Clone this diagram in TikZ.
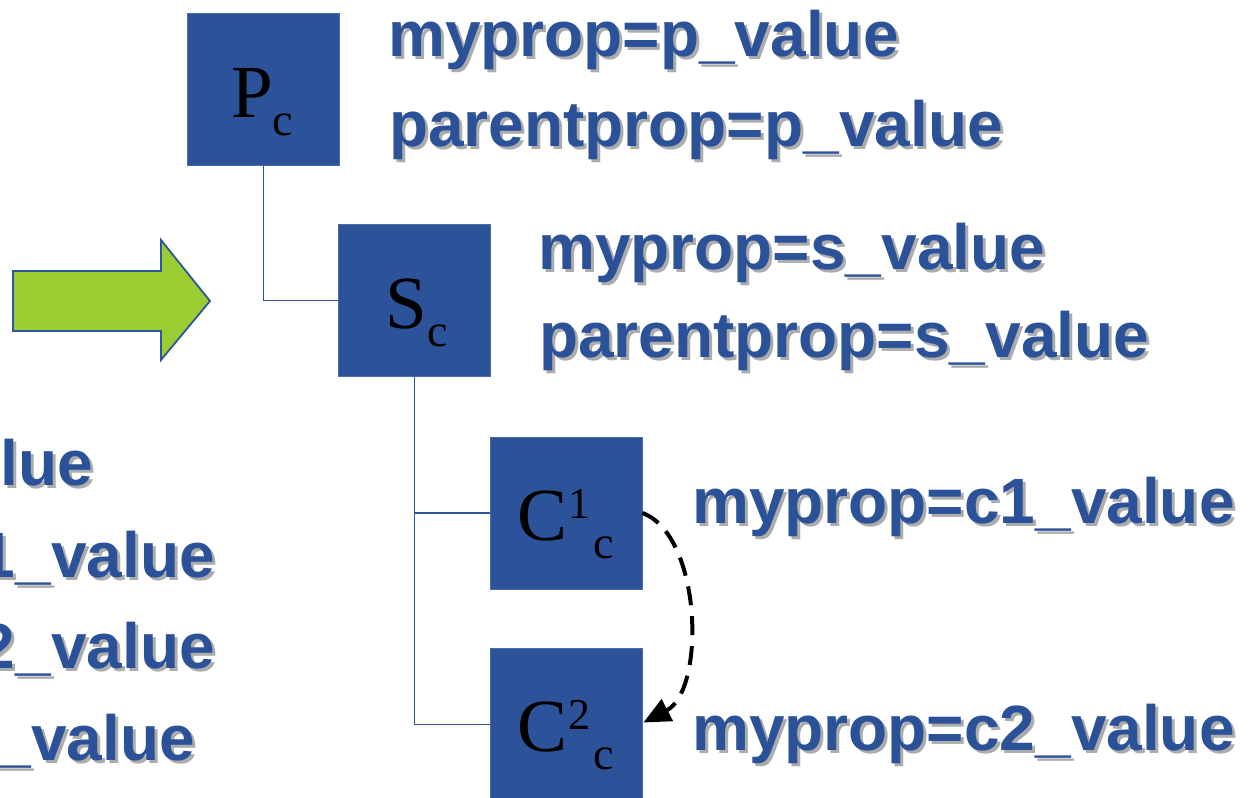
\documentclass[tikz,border=0pt]{standalone}
\usepackage{fontspec}
\setmainfont{Liberation Serif}
\newfontfamily\sansb{Liberation Sans}
\usetikzlibrary{arrows.meta,calc}
\definecolor{boxblue}{RGB}{44,82,153}
\definecolor{txtblue}{RGB}{43,81,153}
\definecolor{lineblue}{RGB}{47,85,155}
\definecolor{shadowgray}{RGB}{172,172,172}
\definecolor{arrowgreen}{RGB}{154,205,50}
\newcommand\shtxt[1]{\rlap{\kern3pt\raisebox{-3pt}{\color{shadowgray}#1}}#1}
\begin{document}
\begin{tikzpicture}[x=1pt,y=-1pt,
  box/.style={rectangle,fill=boxblue,draw=boxblue!85!white,line width=0.8pt,minimum size=152pt,inner sep=0pt},
  lbl/.style={anchor=base west,inner sep=0pt,text=black},
  txt/.style={anchor=base west,inner sep=0pt,text=txtblue,font=\sansb\bfseries\fontsize{64}{70}\selectfont},
  txtr/.style={txt,anchor=base east},
  conn/.style={draw=lineblue,line width=1.6pt},
  dasharrow/.style={draw=black,line width=4pt,dash pattern=on 19pt off 11pt,-{Triangle[length=27pt,width=24pt]}},
  bigarrow/.style={fill=arrowgreen,draw=lineblue,line width=1.8pt,line join=miter}
]
\useasboundingbox (0,0) rectangle (1251,798);

% green arrow
\draw[bigarrow] (13,271) -- (161,271) -- (161,240) -- (210,301) -- (161,360) -- (161,331) -- (13,331) -- cycle;

% boxes
\node[box] (P) at (263.5,89.5) {};
\node[box] (S) at (414.5,300.5) {};
\node[box] (C1) at (566,513) {};
\node[box] (C2) at (566,724.5) {};

% box labels
\newcommand\mainL[1]{{\fontsize{75}{75}\selectfont #1}}
\newcommand\subL[1]{{\fontsize{46}{46}\selectfont\raisebox{-18pt}{#1}}}
\newcommand\supL[1]{{\fontsize{44}{44}\selectfont\raisebox{22pt}{#1}}}
\node[lbl] (Pl) at (231,117) {\mainL{P}\subL{c}};
\node[lbl] (Sl) at (385,328) {\mainL{S}\kern1pt\subL{c}};
\node[lbl] (C1l) at (517,540) {\mainL{C}\kern1pt\supL{1}\kern3pt\subL{c}};
\node[lbl] (C2l) at (517,751) {\mainL{C}\kern1pt\supL{2}\kern3pt\subL{c}};

% connectors
\draw[conn] (P.south) |- (S.west);
\draw[conn] (S.south) |- (C1.west);
\draw[conn] (S.south) |- (C2.west);
\draw[dasharrow] (C1.east) .. controls (702,535) and (706,690) .. ($(C2.east)+(1,-2)$);

% texts with shadow
\foreach \nm/\x/\y/\t in {tp1/388/56/{myprop=p\_value}, tp2/389/146/{parentprop=p\_value},
  ts1/538/269/{myprop=s\_value}, ts2/539/357/{parentprop=s\_value},
  tc1/692/523/{myprop=c1\_value}, tc2/692/750/{myprop=c2\_value}}{
  \node[txt] (\nm) at (\x,\y) {\shtxt{\t}};
}
\foreach \nm/\x/\y/\t in {tl1/93/485/{lue}, tl2/215/577/{1\_value},
  tl3/215/668/{2\_value}, tl4/195/760/{\_value}}{
  \node[txtr] (\nm) at (\x,\y) {\shtxt{\t}};
}
\end{tikzpicture}
\end{document}
